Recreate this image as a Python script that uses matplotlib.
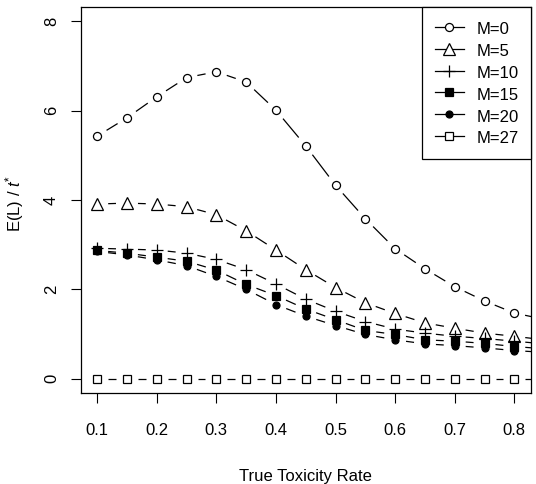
import numpy as np
import matplotlib.pyplot as plt
from matplotlib.lines import Line2D

plt.rcParams['font.family'] = ['Liberation Sans', 'DejaVu Sans']
plt.rcParams['mathtext.fontset'] = 'custom'
plt.rcParams['mathtext.rm'] = 'Liberation Sans'
plt.rcParams['mathtext.it'] = 'Liberation Sans:italic'

# true toxicity rates (last one falls just outside the plotted range)
rate = [0.1, 0.15, 0.2, 0.25, 0.3, 0.35, 0.4, 0.45, 0.5, 0.55, 0.6, 0.65,
        0.7, 0.75, 0.8, 0.85]

m0 = [5.43, 5.84, 6.31, 6.74, 6.87, 6.64, 6.01, 5.21, 4.33, 3.58, 2.91, 2.46,
      2.06, 1.74, 1.47, 1.33]
m5 = [3.91, 3.93, 3.91, 3.85, 3.67, 3.31, 2.88, 2.44, 2.04, 1.70, 1.46, 1.25,
      1.13, 1.02, 0.95, 0.87]
m10 = [2.92, 2.90, 2.88, 2.81, 2.67, 2.44, 2.12, 1.78, 1.51, 1.28, 1.11, 1.02,
       0.95, 0.90, 0.84, 0.78]
m15 = [2.87, 2.81, 2.72, 2.63, 2.43, 2.11, 1.86, 1.56, 1.32, 1.08, 0.99, 0.87,
       0.84, 0.79, 0.72, 0.67]
m20 = [2.85, 2.77, 2.66, 2.53, 2.29, 2.00, 1.66, 1.40, 1.19, 0.99, 0.87, 0.78,
       0.74, 0.69, 0.63, 0.59]
m27 = [0, 0, 0, 0, 0, 0, 0, 0, 0, 0, 0, 0, 0, 0, 0, 0]

series = [m0, m5, m10, m15, m20, m27]
labels = ['M=0', 'M=5', 'M=10', 'M=15', 'M=20', 'M=27']

xticks = [0.1, 0.2, 0.3, 0.4, 0.5, 0.6, 0.7, 0.8]
yticks = [0, 2, 4, 6, 8]

# marker, size, face colour (R pch 1, 2, 3, 15, 16, 0)
styles = [('o', 5.8, 'none'), ('^', 8.6, 'none'), ('+', 8.6, 'black'),
          ('s', 5.4, 'black'), ('o', 5.0, 'black'), ('s', 5.4, 'none')]

LW = 0.9
GAP = 11  # px, gap around each point like R type="b"


def gapped_line(ax, xs, ys, gap_px, **kw):
    # draw segments between points, leaving a gap around each point
    tr = ax.transData
    inv = tr.inverted()
    pts = tr.transform(np.column_stack([xs, ys]))
    for p, q in zip(pts[:-1], pts[1:]):
        d = q - p
        L = np.hypot(*d)
        if L <= 2 * gap_px:
            continue
        u = d / L
        a, b = inv.transform([p + u * gap_px, q - u * gap_px])
        ax.plot([a[0], b[0]], [a[1], b[1]], **kw)


fig = plt.figure(figsize=(5.36, 4.84), dpi=100)
W, H = 536, 484
ax = fig.add_axes([80.5 / W, 1 - 393 / H, 450.5 / W, 386 / H])
ax.set_xlim(0.072, 0.828)
ax.set_ylim(-0.32, 8.32)

for ys, (mk, ms, fc) in zip(series, styles):
    gapped_line(ax, rate, ys, GAP, color='black', lw=LW, solid_capstyle='butt')
    ax.plot(rate, ys, linestyle='none', marker=mk, ms=ms, mfc=fc,
            mec='black', mew=0.9, color='black')

ax.set_xticks(xticks)
ax.set_xticklabels([f'{v:.1f}' for v in xticks])
ax.set_yticks(yticks)
ax.tick_params(axis='both', direction='out', length=7.5, width=0.8,
               labelsize=12, colors='black')
ax.tick_params(axis='x', pad=14)
ax.tick_params(axis='y', pad=8)
for lab in ax.get_yticklabels():
    lab.set_rotation(90)
    lab.set_va('center')

for sp in ax.spines.values():
    sp.set_linewidth(0.9)

ax.set_xlabel('True Toxicity Rate', fontsize=12)
ax.xaxis.set_label_coords(0.5, -0.197)
ax.set_ylabel(r'E(L) / $t^{*}$', fontsize=12)
ax.yaxis.set_label_coords(-0.122, 0.49)

handles = []
for mk, ms, fc in styles:
    handles.append(Line2D([], [], color='black', lw=LW, marker=mk, ms=ms,
                          mfc='white' if fc == 'none' else fc, mec='black',
                          mew=0.9))
leg = ax.legend(handles, labels, loc='upper right', bbox_to_anchor=(1, 1),
                borderaxespad=0, fontsize=12, fancybox=False, framealpha=1,
                edgecolor='black', borderpad=0.75, handlelength=1.75,
                handleheight=1.3, handletextpad=0.75, labelspacing=0.22)
leg.get_frame().set_linewidth(0.9)

fig.savefig('out.png', dpi=100)
